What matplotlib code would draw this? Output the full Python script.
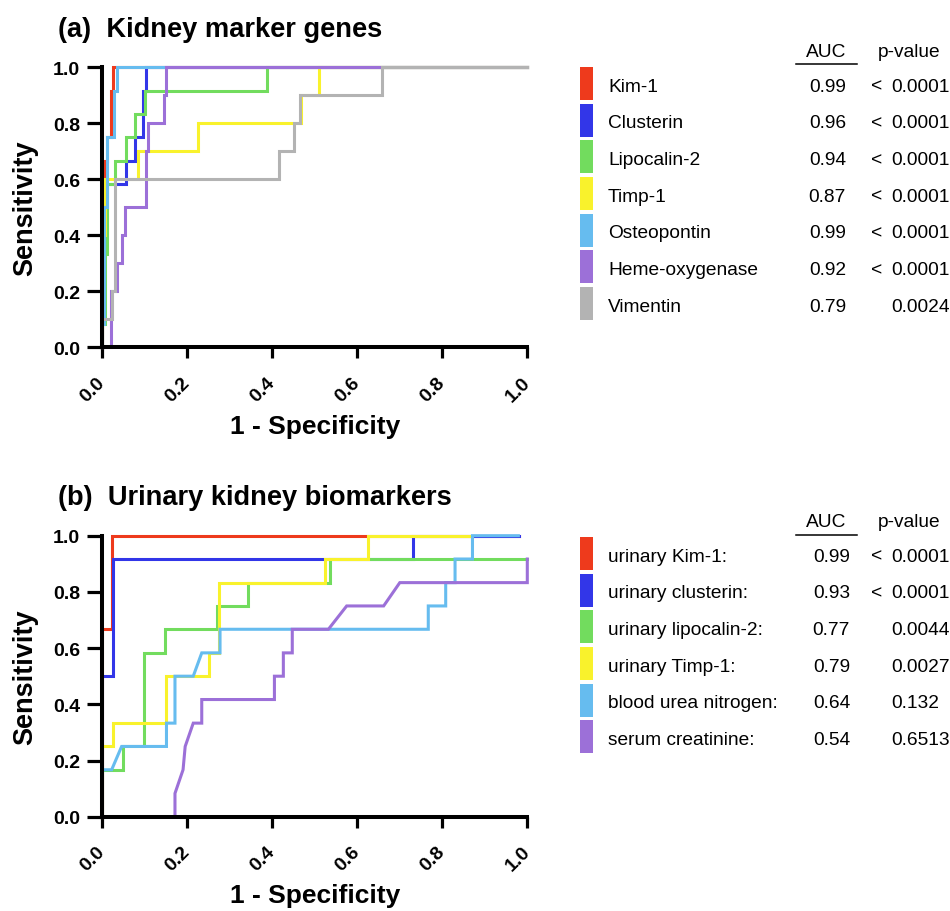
import matplotlib
matplotlib.use("Agg")
import matplotlib.pyplot as plt
from matplotlib.patches import Rectangle
from matplotlib.lines import Line2D

plt.rcParams["font.family"] = ["Liberation Sans", "DejaVu Sans"]

W, H = 950, 912

# ---------------- panel (a): kidney marker genes (ROC vertices) ----------------
kim1_fpr = [0, 0, 0.004, 0.004, 0.012, 0.012, 0.020, 0.020, 0.025, 0.025, 1.0]
kim1_tpr = [0, 0.583, 0.583, 0.667, 0.667, 0.75, 0.75, 0.917, 0.917, 1.0, 1.0]

clusterin_fpr = [0, 0, 0.005, 0.005, 0.055, 0.055, 0.078, 0.078, 0.096, 0.096, 0.102, 0.102, 1.0]
clusterin_tpr = [0, 0.25, 0.25, 0.583, 0.583, 0.667, 0.667, 0.75, 0.75, 0.917, 0.917, 1.0, 1.0]

lipocalin_fpr = [0, 0, 0.006, 0.006, 0.010, 0.010, 0.030, 0.030, 0.055, 0.055, 0.078, 0.078,
                 0.100, 0.100, 0.388, 0.388, 1.0]
lipocalin_tpr = [0, 0.083, 0.083, 0.333, 0.333, 0.583, 0.583, 0.667, 0.667, 0.75, 0.75, 0.833,
                 0.833, 0.917, 0.917, 1.0, 1.0]

timp1_fpr = [0, 0, 0.006, 0.006, 0.085, 0.085, 0.226, 0.226, 0.467, 0.467, 0.510, 0.510, 1.0]
timp1_tpr = [0, 0.4, 0.4, 0.6, 0.6, 0.7, 0.7, 0.8, 0.8, 0.9, 0.9, 1.0, 1.0]

osteopontin_fpr = [0, 0, 0.003, 0.003, 0.012, 0.012, 0.028, 0.028, 0.034, 0.034, 1.0]
osteopontin_tpr = [0, 0.083, 0.083, 0.5, 0.5, 0.75, 0.75, 0.917, 0.917, 1.0, 1.0]

heme_fpr = [0, 0.020, 0.020, 0.034, 0.034, 0.047, 0.047, 0.053, 0.053, 0.102, 0.102, 0.108,
            0.108, 0.145, 0.145, 0.150, 0.150, 1.0]
heme_tpr = [0, 0, 0.2, 0.2, 0.3, 0.3, 0.4, 0.4, 0.5, 0.5, 0.7, 0.7, 0.8, 0.8, 0.9, 0.9, 1.0, 1.0]

vimentin_fpr = [0, 0, 0.023, 0.023, 0.030, 0.030, 0.416, 0.416, 0.451, 0.451, 0.465, 0.465,
                0.657, 0.657, 1.0]
vimentin_tpr = [0, 0.1, 0.1, 0.2, 0.2, 0.6, 0.6, 0.7, 0.7, 0.8, 0.8, 0.9, 0.9, 1.0, 1.0]

a_names = ["Kim-1", "Clusterin", "Lipocalin-2", "Timp-1", "Osteopontin", "Heme-oxygenase", "Vimentin"]
a_auc = ["0.99", "0.96", "0.94", "0.87", "0.99", "0.92", "0.79"]
a_pval = ["< 0.0001", "< 0.0001", "< 0.0001", "< 0.0001", "< 0.0001", "< 0.0001", "0.0024"]

# ---------------- panel (b): urinary kidney biomarkers ----------------
ukim1_fpr = [0, 0, 0.022, 0.022, 0.98]
ukim1_tpr = [0, 0.667, 0.667, 1.0, 1.0]

uclust_fpr = [0, 0, 0.024, 0.024, 0.732, 0.732, 0.98]
uclust_tpr = [0, 0.5, 0.5, 0.917, 0.917, 1.0, 1.0]

ulipo_fpr = [0, 0, 0.049, 0.049, 0.098, 0.098, 0.147, 0.147, 0.269, 0.269, 0.342, 0.342,
             0.536, 0.536, 1.0]
ulipo_tpr = [0, 0.167, 0.167, 0.25, 0.25, 0.583, 0.583, 0.667, 0.667, 0.75, 0.75, 0.833,
             0.833, 0.917, 0.917]

utimp_fpr = [0, 0, 0.026, 0.026, 0.151, 0.151, 0.251, 0.251, 0.274, 0.274, 0.524, 0.524,
             0.626, 0.626, 0.87]
utimp_tpr = [0, 0.25, 0.25, 0.333, 0.333, 0.5, 0.5, 0.583, 0.583, 0.833, 0.833, 0.917,
             0.917, 1.0, 1.0]

bun_fpr = [0, 0, 0.022, 0.0455, 0.151, 0.151, 0.171, 0.171, 0.214, 0.234, 0.277, 0.277,
           0.767, 0.767, 0.808, 0.808, 0.830, 0.830, 0.871, 0.871, 0.979]
bun_tpr = [0, 0.167, 0.167, 0.25, 0.25, 0.333, 0.333, 0.5, 0.5, 0.583, 0.583, 0.667,
           0.667, 0.75, 0.75, 0.833, 0.833, 0.917, 0.917, 1.0, 1.0]

creat_fpr = [0, 0.171, 0.171, 0.190, 0.195, 0.214, 0.234, 0.234, 0.405, 0.405, 0.426, 0.426,
             0.447, 0.447, 0.532, 0.575, 0.662, 0.700, 1.0, 1.0]
creat_tpr = [0, 0, 0.083, 0.167, 0.25, 0.333, 0.333, 0.417, 0.417, 0.5, 0.5, 0.583,
             0.583, 0.667, 0.667, 0.75, 0.75, 0.833, 0.833, 0.917]

b_names = ["urinary Kim-1:", "urinary clusterin:", "urinary lipocalin-2:", "urinary Timp-1:",
           "blood urea nitrogen:", "serum creatinine:"]
b_auc = ["0.99", "0.93", "0.77", "0.79", "0.64", "0.54"]
b_pval = ["< 0.0001", "< 0.0001", "0.0044", "0.0027", "0.132", "0.6513"]

tick_vals = [0, 0.2, 0.4, 0.6, 0.8, 1.0]
tick_labels = ["0.0", "0.2", "0.4", "0.6", "0.8", "1.0"]

red, blue, green, yellow = "#ee3a1c", "#3236e8", "#72dc5e", "#f9f22c"
ltblue, purple, grey = "#66bcef", "#9c70d8", "#b3b3b3"
a_colors = [red, blue, green, yellow, ltblue, purple, grey]
b_colors = [red, blue, green, yellow, ltblue, purple]

a_curves = [(kim1_fpr, kim1_tpr), (clusterin_fpr, clusterin_tpr), (lipocalin_fpr, lipocalin_tpr),
            (timp1_fpr, timp1_tpr), (osteopontin_fpr, osteopontin_tpr), (heme_fpr, heme_tpr),
            (vimentin_fpr, vimentin_tpr)]
b_curves = [(ukim1_fpr, ukim1_tpr), (uclust_fpr, uclust_tpr), (ulipo_fpr, ulipo_tpr),
            (utimp_fpr, utimp_tpr), (bun_fpr, bun_tpr), (creat_fpr, creat_tpr)]

fig = plt.figure(figsize=(W / 100, H / 100), dpi=100)


def px_axes(left, top, right, bottom):
    return fig.add_axes([left / W, 1 - bottom / H, (right - left) / W, (bottom - top) / H])


def style_axes(ax):
    ax.set_xlim(0, 1)
    ax.set_ylim(0, 1)
    for s in ["top", "right"]:
        ax.spines[s].set_visible(False)
    for s in ["left", "bottom"]:
        ax.spines[s].set_linewidth(2.9)
    ax.tick_params(axis="y", direction="out", length=11, width=2.3, pad=5, labelsize=14)
    ax.tick_params(axis="x", direction="out", length=8, width=2.3, pad=15, labelsize=14)
    ax.set_yticks(tick_vals, tick_labels, fontweight="bold")
    ax.set_xticks(tick_vals, tick_labels, fontweight="bold", rotation=45,
                  ha="right", va="center", rotation_mode="anchor")
    ax.set_xlabel("1 - Specificity", fontsize=19, fontweight="bold")
    ax.xaxis.set_label_coords(0.5, -0.28)
    ax.xaxis.label.set_va("center")
    ax.set_ylabel("Sensitivity", fontsize=19.5, fontweight="bold")
    ax.yaxis.set_label_coords(-0.182, 0.5)
    ax.yaxis.label.set_va("center")


def draw_legend(names, aucs, pvals, colors, header_base, first_base, auc_right):
    pitch = 36.67
    fig.text(826 / W, 1 - header_base / H, "AUC", fontsize=13.8, ha="center", va="baseline")
    fig.text(909 / W, 1 - header_base / H, "p-value", fontsize=13.8, ha="center", va="baseline")
    fig.add_artist(Line2D([796 / W, 857 / W], [1 - (header_base + 8.5) / H] * 2,
                          transform=fig.transFigure, color="black", lw=1.1))
    for i, (nm, auc, pv, c) in enumerate(zip(names, aucs, pvals, colors)):
        base = first_base + i * pitch
        top = base - 23.7
        fig.add_artist(Rectangle((580 / W, 1 - (top + 33) / H), 12.5 / W, 33 / H,
                                 transform=fig.transFigure, color=c, lw=0))
        fig.text(608 / W, 1 - base / H, nm, fontsize=13.8, ha="left", va="baseline")
        fig.text(auc_right / W, 1 - base / H, auc, fontsize=13.8, ha="right", va="baseline")
        if pv.startswith("<"):
            fig.text(871 / W, 1 - base / H, "<", fontsize=13.8, ha="left", va="baseline")
            pv = pv[1:].strip()
        fig.text(891 / W, 1 - base / H, pv, fontsize=13.8, ha="left", va="baseline")


# panel (a)
ax_a = px_axes(102.3, 68.3, 527.3, 348.3)
for (fx, ty), c in zip(a_curves, a_colors):
    ax_a.plot(fx, ty, color=c, lw=2.2, clip_on=False, solid_joinstyle="miter")
style_axes(ax_a)
fig.text(58 / W, 1 - 36.7 / H, "(a)  Kidney marker genes", fontsize=19.6,
         fontweight="bold", ha="left", va="baseline")
draw_legend(a_names, a_auc, a_pval, a_colors, 56.7, 91.7, 846)

# panel (b)
ax_b = px_axes(102.3, 536.7, 527.3, 817.7)
for (fx, ty), c in zip(b_curves, b_colors):
    ax_b.plot(fx, ty, color=c, lw=2.2, clip_on=False, solid_joinstyle="miter")
style_axes(ax_b)
fig.text(58 / W, 1 - 505 / H, "(b)  Urinary kidney biomarkers", fontsize=19.6,
         fontweight="bold", ha="left", va="baseline")
draw_legend(b_names, b_auc, b_pval, b_colors, 527.3, 561.7, 850)

fig.savefig("out.png", dpi=100)
